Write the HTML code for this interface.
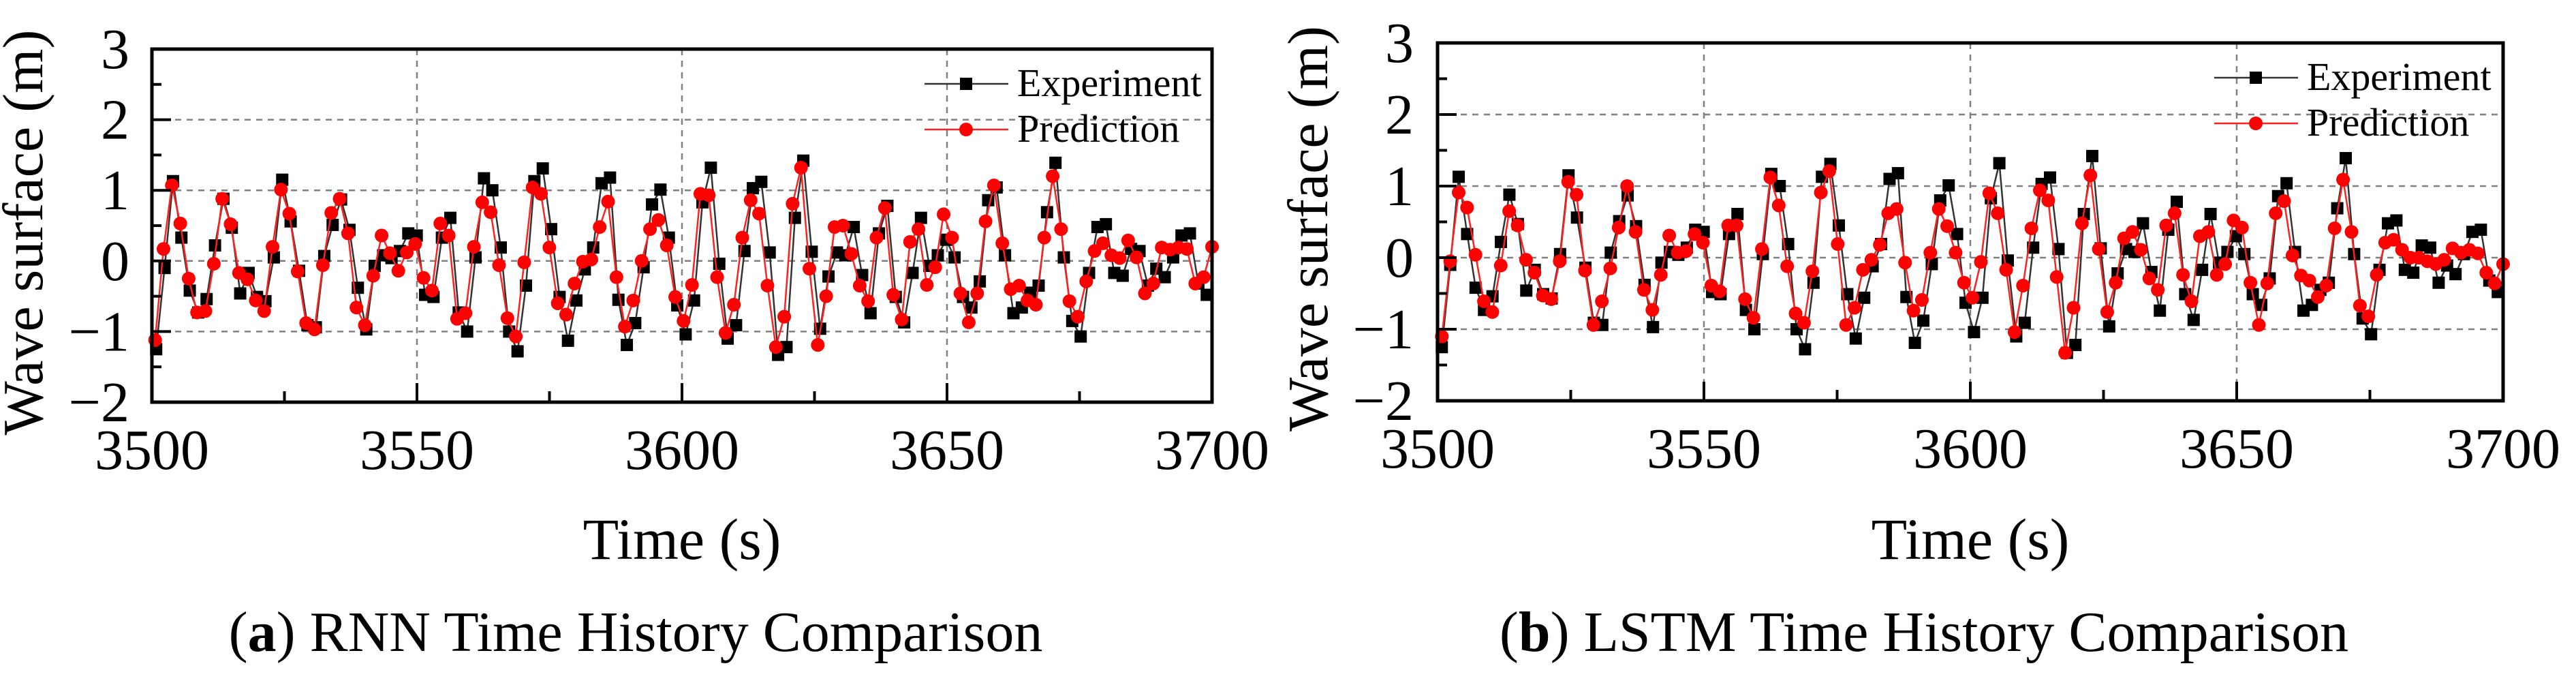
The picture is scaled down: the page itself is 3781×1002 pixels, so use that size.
<!DOCTYPE html>
<html><head><meta charset="utf-8">
<style>
html,body{margin:0;padding:0;background:#fff;}
svg{display:block;}
svg text{font-family:"Liberation Serif","DejaVu Serif",serif;}
</style></head>
<body>
<svg id="fig" width="3781" height="1002" viewBox="0 0 3781 1002" xmlns="http://www.w3.org/2000/svg" font-family="Liberation Serif, serif"></svg>
<script>
// ---- data ----
const xTicks = [3500, 3550, 3600, 3650, 3700];
const yTicks = [-2, -1, 0, 1, 2, 3];
const expStart = 3500.8, expEnd = 3699.0;
const experiment = [-1.25,-0.1,1.13,0.33,-0.42,-0.73,-0.54,0.22,0.88,0.47,-0.46,-0.17,-0.51,-0.57,0.05,1.15,0.56,-0.14,-0.91,-0.94,0.07,0.51,0.87,0.44,-0.38,-0.97,-0.07,0.08,0.04,0.14,0.39,0.36,-0.48,-0.51,0.33,0.61,-0.73,-1.0,0.05,1.17,1.0,0.19,-1.0,-1.28,-0.35,1.13,1.31,0.45,-0.51,-1.13,-0.56,-0.12,0.19,1.1,1.18,-0.55,-1.19,-0.88,-0.09,0.8,1.01,0.33,-0.63,-1.04,-0.56,0.83,1.32,-0.04,-1.1,-0.91,0.14,1.03,1.12,0.12,-1.33,-1.22,0.61,1.42,0.13,-0.96,-0.22,0.12,0.08,0.48,-0.2,-0.74,0.39,0.78,-0.51,-0.87,-0.17,0.61,-0.07,0.08,0.3,0.05,-0.51,-0.66,-0.29,0.86,1.04,0.08,-0.74,-0.66,-0.45,-0.35,0.69,1.39,0.05,-0.85,-1.07,-0.17,0.48,0.52,-0.17,-0.21,0.17,0.14,-0.35,-0.11,-0.23,0.05,0.36,0.39,-0.32,-0.48];
const predAStart = 3500.6, predAEnd = 3700.0;
const predictionRNN = [-1.12,0.17,1.07,0.53,-0.25,-0.73,-0.71,-0.04,0.88,0.52,-0.17,-0.26,-0.56,-0.71,0.2,1.01,0.67,-0.15,-0.88,-0.97,-0.06,0.68,0.88,0.39,-0.66,-0.91,-0.21,0.36,0.11,-0.14,0.12,0.24,-0.24,-0.42,0.53,0.36,-0.82,-0.74,0.2,0.83,0.69,-0.06,-0.81,-1.07,-0.02,1.04,0.95,0.19,-0.6,-0.76,-0.32,-0.01,0.02,0.48,0.84,-0.23,-0.93,-0.56,0,0.45,0.58,0.22,-0.51,-0.85,-0.34,0.95,0.93,-0.23,-1.02,-0.62,0.33,0.86,0.67,-0.35,-1.22,-0.79,0.81,1.32,-0.11,-1.19,-0.5,0.48,0.5,0.1,-0.35,-0.57,0.33,0.75,-0.48,-0.83,0.27,0.45,-0.34,-0.09,0.66,0.33,-0.46,-0.87,-0.46,0.56,1.07,0.25,-0.4,-0.35,-0.56,-0.62,0.33,1.2,0.45,-0.57,-0.79,-0.29,0.14,0.25,0.08,0.04,0.29,0.05,-0.46,-0.32,0.19,0.16,0.19,0.17,-0.32,-0.23,0.2];
const predBStart = 3500.8, predBEnd = 3700.0;
const predictionLSTM = [-1.1,-0.05,0.91,0.7,0.04,-0.61,-0.76,-0.11,0.65,0.45,-0.03,-0.21,-0.53,-0.58,-0.05,1.06,0.88,-0.18,-0.94,-0.61,-0.15,0.42,1.0,0.36,-0.45,-0.73,-0.24,0.31,0.07,0.09,0.33,0.21,-0.39,-0.47,0.45,0.45,-0.58,-0.84,0.12,1.12,0.73,-0.12,-0.78,-0.91,-0.19,0.91,1.21,0.19,-0.94,-0.7,-0.17,-0.03,0.18,0.62,0.68,-0.07,-0.74,-0.59,0.07,0.68,0.44,0.07,-0.35,-0.56,-0.06,0.9,0.62,-0.17,-1.04,-0.39,0.41,0.94,0.8,-0.27,-1.33,-0.7,0.48,1.15,0.12,-0.76,-0.35,0.27,0.36,0.11,-0.29,-0.45,0.45,0.62,-0.24,-0.61,0.3,0.36,-0.24,-0.09,0.52,0.42,-0.35,-0.94,-0.36,0.62,0.79,0.03,-0.25,-0.32,-0.55,-0.39,0.41,1.09,0.36,-0.67,-0.82,-0.24,0.21,0.25,0.11,0,0,-0.05,-0.09,-0.03,0.13,0.07,0.11,0.06,-0.21,-0.36,-0.09];

const NS = "http://www.w3.org/2000/svg";
const FONT = '"Liberation Serif", "DejaVu Serif", serif';
const svg = document.getElementById('fig');
function mk(tag, attrs, parent){
  const e = document.createElementNS(NS, tag);
  for (const k in attrs) e.setAttribute(k, attrs[k]);
  if (tag === 'text') e.setAttribute('style', 'font-family:' + FONT);
  (parent||svg).appendChild(e);
  return e;
}

function panel(P){
  const g = mk('g', {});
  
  
  const xs = t => P.x0 + (t - 3500) / 200 * (P.x1 - P.x0);
  const ys = v => P.y0 + (3 - v) / 5 * (P.y1 - P.y0);
  [3550,3600,3650].forEach(t=>{
    const l = mk('line',{x1:xs(t),x2:xs(t),y1:P.y0,y2:P.y1,stroke:'#808080','stroke-width':2.5,'stroke-dasharray':'9 8'},g);
    
    
  });
  [-1,0,1,2].forEach(v=>{
    const l = mk('line',{x1:P.x0,x2:P.x1,y1:ys(v),y2:ys(v),stroke:'#808080','stroke-width':2.5,'stroke-dasharray':'9 8'},g);
    
    
  });
  function series(vals, start, end, color, lw, marker, name){
    const step = (end - start) / (vals.length - 1);
    const pts = vals.map((v,i)=>[xs(start+i*step), ys(v)]);
    const pl = mk('polyline',{points:pts.map(p=>p[0].toFixed(1)+','+p[1].toFixed(1)).join(' '),fill:'none',stroke:color,'stroke-width':lw,'stroke-linejoin':'round'},g);
    
    
    pts.forEach(p=>{
      let m;
      if (marker==='square') m = mk('rect',{x:p[0]-9,y:p[1]-9,width:18,height:18,fill:'#000'},g);
      else m = mk('circle',{cx:p[0],cy:p[1],r:10,fill:'#ff0000'},g);
      
      
    });
  }
  series(experiment, expStart, expEnd, '#333', 2.5, 'square', 'experiment');
  series(P.pred, P.pStart, P.pEnd, '#ff2020', 2.5, 'circle', 'prediction');
  const fr = mk('rect',{x:P.x0,y:P.y0,width:P.x1-P.x0,height:P.y1-P.y0,fill:'none',stroke:'#000','stroke-width':5},g);
  
  
  for (let t=3500;t<=3700;t+=25){
    const major = t%50===0;
    const tk = mk('line',{x1:xs(t),x2:xs(t),y1:P.y1,y2:P.y1-(major?28:16),stroke:'#000','stroke-width':4},g);
    
    
  }
  xTicks.forEach(t=>{
    const tx = mk('text',{x:xs(t),y:P.y1+98,'text-anchor':'middle','font-size':84,fill:'#000'},g);
    tx.textContent = t;
    
    
  });
  for (let v=-2;v<=3;v+=0.5){
    const major = Number.isInteger(v);
    const tk = mk('line',{x1:P.x0,x2:P.x0+(major?28:14),y1:ys(v),y2:ys(v),stroke:'#000','stroke-width':4},g);
    
    
  }
  yTicks.forEach(v=>{
    const tx = mk('text',{x:P.ylabX,y:ys(v)+28,'text-anchor':'end','font-size':84,fill:'#000'},g);
    tx.textContent = v<0 ? '\u2212'+(-v) : v;
    
    
  });
  const yt = mk('text',{x:0,y:0,'text-anchor':'middle','font-size':84,fill:'#000',transform:`translate(${P.ytitleX+30},${(P.y0+P.y1)/2+10}) rotate(-90)`},g);
  yt.textContent = 'Wave surface (m)';
  
  
  const xt = mk('text',{x:(P.x0+P.x1)/2,y:820,'text-anchor':'middle','font-size':86,fill:'#000'},g);
  xt.textContent = 'Time (s)';
  
  
  const lg = mk('g',{},g);
  
  
  const L = P.leg;
  mk('line',{x1:L.x,x2:L.x+123,y1:L.y,y2:L.y,stroke:'#333','stroke-width':2.5},lg);
  mk('rect',{x:L.x+52,y:L.y-9,width:18,height:18,fill:'#000'},lg);
  const t1 = mk('text',{x:L.x+136,y:L.y+18,'font-size':58,fill:'#000'},lg);
  t1.textContent = 'Experiment';
  
  
  mk('line',{x1:L.x,x2:L.x+123,y1:L.y+67,y2:L.y+67,stroke:'#ff2020','stroke-width':2.5},lg);
  mk('circle',{cx:L.x+61,cy:L.y+67,r:10,fill:'#ff0000'},lg);
  const t2 = mk('text',{x:L.x+136,y:L.y+85,'font-size':58,fill:'#000'},lg);
  t2.textContent = 'Prediction';
  
  
  const cap = mk('text',{x:P.capX,y:955,'text-anchor':'middle','font-size':84,fill:'#000'},g);
  cap.innerHTML = '(<tspan font-weight="bold">'+P.letter+'</tspan>) '+P.caption;
  
  
}

panel({key:'rnn', x0:223, x1:1779, y0:72, y1:590, ylabX:190, ytitleX:32,
  pred:predictionRNN, pStart:predAStart, pEnd:predAEnd,
  leg:{x:1357,y:123}, capX:933, letter:'a', caption:'RNN Time History Comparison'});
panel({key:'lstm', x0:2110, x1:3674, y0:63, y1:588, ylabX:2075, ytitleX:1918,
  pred:predictionLSTM, pStart:predBStart, pEnd:predBEnd,
  leg:{x:3250,y:114}, capX:2824, letter:'b', caption:'LSTM Time History Comparison'});
</script>
</body></html>
